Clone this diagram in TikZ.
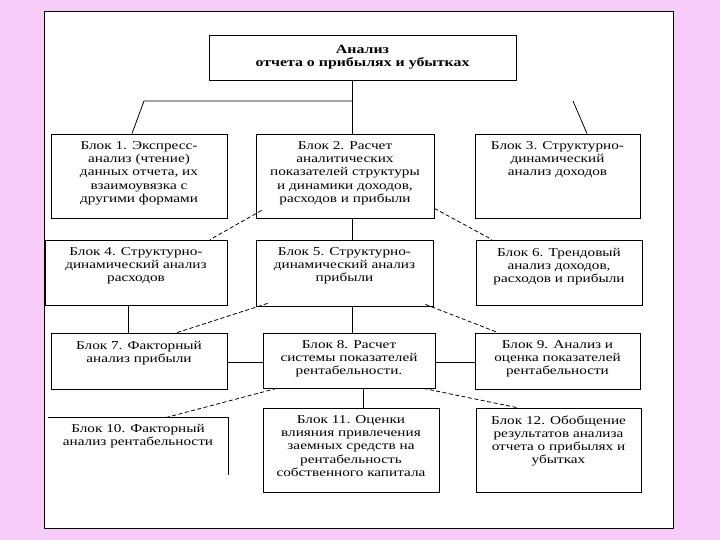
\documentclass[tikz,border=0pt]{standalone}
\usepackage{fontspec}
\setmainfont{Liberation Serif}
\newfontfamily\blkfam[FakeStretch=1.27]{Liberation Serif}
\newfontfamily\ttlfam[FakeStretch=1.27]{Liberation Serif}
\definecolor{pinkbg}{RGB}{248,204,248}
\begin{document}
\begin{tikzpicture}[x=1pt,y=-1pt,
  box/.style={draw=black, line width=0.8pt, rectangle, inner sep=0pt},
  txt/.style={align=center, inner sep=0pt, anchor=north, font=\blkfam\fontsize{12}{13.1}\selectfont},
  ttl/.style={align=center, inner sep=0pt, anchor=north, font=\ttlfam\bfseries\fontsize{12.5}{13.3}\selectfont},
  link/.style={draw=black, line width=0.8pt},
  dlink/.style={draw=black, line width=0.8pt, dash pattern=on 4pt off 2.5pt}]
\useasboundingbox (0,0) rectangle (720,540);
\fill[pinkbg] (0,0) rectangle (720,540);
\draw[fill=white, line width=1pt] (44,12) rectangle (673,528);

% boxes
\node[box, minimum width=307pt, minimum height=45pt] (title) at (362.5,57.5) {};
\node[box, minimum width=176pt, minimum height=84pt] (b1) at (139,176) {};
\node[box, minimum width=178pt, minimum height=84pt] (b2) at (345,176) {};
\node[box, minimum width=165pt, minimum height=84pt] (b3) at (557.5,176) {};
\node[box, minimum width=182pt, minimum height=65pt] (b4) at (136,272.5) {};
\node[box, minimum width=177pt, minimum height=66pt] (b5) at (344.5,273) {};
\node[box, minimum width=166pt, minimum height=65pt] (b6) at (559,272.5) {};
\node[box, minimum width=176pt, minimum height=56pt] (b7) at (139,361) {};
\node[box, minimum width=172pt, minimum height=55pt] (b8) at (349,360.5) {};
\node[box, minimum width=165pt, minimum height=56pt] (b9) at (557.5,361) {};
\node[inner sep=0pt, minimum width=180pt, minimum height=57pt] (b10) at (138,446.5) {};
\draw[link] (b10.north west) -- (b10.north east) -- (b10.south east);
\node[box, minimum width=176pt, minimum height=84pt] (b11) at (351,450) {};
\node[box, minimum width=165pt, minimum height=84pt] (b12) at (558.5,450) {};

% texts
\node[ttl] (ttitle) at ([yshift=-10]title.north) {Анализ\\отчета о прибылях и убытках};
\node[txt] (t1) at ([yshift=-8]b1.north) {Блок 1. Экспресс-\\анализ (чтение)\\данных отчета, их\\взаимоувязка с\\другими формами};
\node[txt] (t2) at ([yshift=-8]b2.north) {Блок 2. Расчет\\аналитических\\показателей структуры\\и динамики доходов,\\расходов и прибыли};
\node[txt] (t3) at ([yshift=-8]b3.north) {Блок 3. Структурно-\\динамический\\анализ доходов};
\node[txt] (t4) at ([yshift=-8]b4.north) {Блок 4. Структурно-\\динамический анализ\\расходов};
\node[txt] (t5) at ([yshift=-8]b5.north) {Блок 5. Структурно-\\динамический анализ\\прибыли};
\node[txt] (t6) at ([yshift=-8]b6.north) {Блок 6. Трендовый\\анализ доходов,\\расходов и прибыли};
\node[txt] (t7) at ([yshift=-8]b7.north) {Блок 7. Факторный\\анализ прибыли};
\node[txt] (t8) at ([yshift=-8]b8.north) {Блок 8. Расчет\\системы показателей\\рентабельности.};
\node[txt] (t9) at ([yshift=-8]b9.north) {Блок 9. Анализ и\\оценка показателей\\рентабельности};
\node[txt] (t10) at ([yshift=-6]b10.north) {Блок 10. Факторный\\анализ рентабельности};
\node[txt] (t11) at ([yshift=-8]b11.north) {Блок 11. Оценки\\влияния привлечения\\заемных средств на\\рентабельность\\собственного капитала};
\node[txt] (t12) at ([yshift=-8]b12.north) {Блок 12. Обобщение\\результатов анализа\\отчета о прибылях и\\убытках};

% junction coordinates
\coordinate (j) at (352,101);
\coordinate (jl) at (144,101);
\coordinate (jr) at (573,101);

% solid connectors
\draw[link] (j |- title.south) -- (j |- b2.north);
\draw[link] (j) -- (jl) -- ([xshift=-7pt]b1.north);
\draw[link] (jr) -- ([xshift=29.5pt]b3.north);
\draw[link] (j |- b2.south) -- (j |- b5.north);
\draw[link] (j |- b5.south) -- (j |- b8.north);
\draw[link] ([xshift=14pt]b8.south) -- ([xshift=14pt]b8.south |- b11.north);
\draw[link] ([xshift=-8pt]b4.south) -- ([xshift=-8pt]b4.south |- b7.north);
\draw[link] (b7.east |- 0,362) -- (b8.west |- 0,362);
\draw[link] (b8.east |- 0,362) -- (b9.west |- 0,362);

% dashed connectors
\draw[dlink] ([xshift=6pt,yshift=8pt]b2.south west) -- ([xshift=74pt]b4.north);
\draw[dlink] ([yshift=10pt]b2.south east) -- ([xshift=-67pt]b6.north);
\draw[dlink] ([xshift=12pt,yshift=3pt]b5.south west) -- ([xshift=38pt]b7.north);
\draw[dlink] ([xshift=-8pt,yshift=2pt]b5.south east) -- ([xshift=-59.5pt]b9.north);
\draw[dlink] ([xshift=14pt]b8.south west) -- ([xshift=27pt]b10.north);
\draw[dlink] ([xshift=-12pt]b8.south east) -- ([xshift=-41.5pt]b12.north);
\end{tikzpicture}
\end{document}
